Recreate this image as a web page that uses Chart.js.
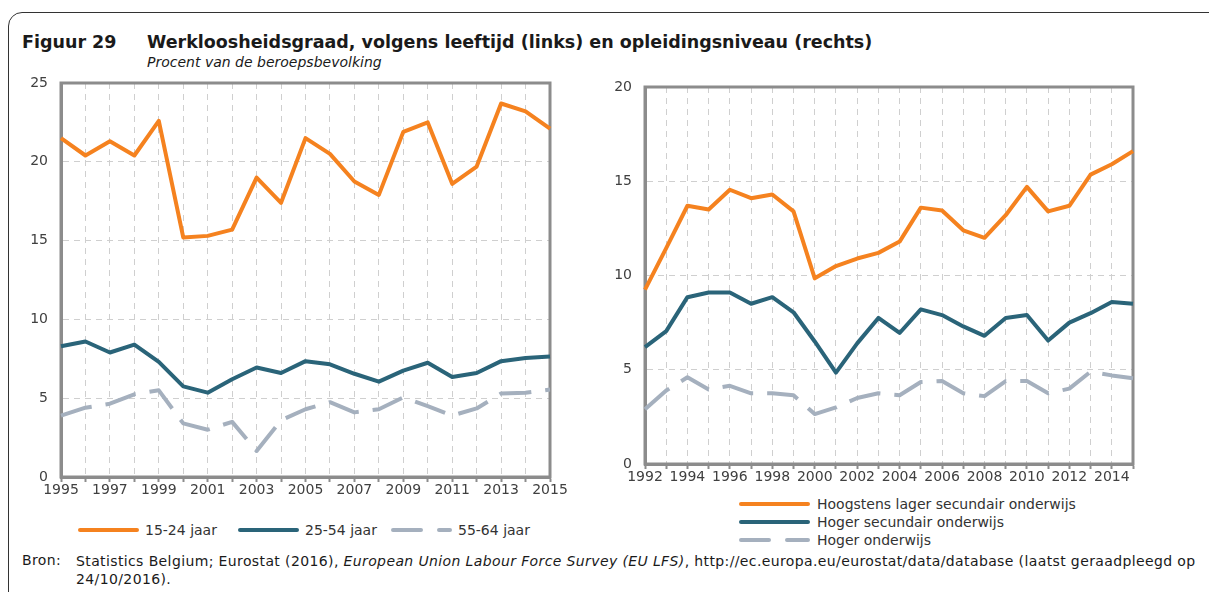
<!DOCTYPE html>
<html><head><meta charset="utf-8">
<script src="https://cdn.jsdelivr.net/npm/chart.js@4"></script>
<style>
html,body{margin:0;padding:0;background:#fff;width:1209px;height:592px;overflow:hidden;font-family:"DejaVu Sans",sans-serif;color:#1a1a1a}
#frame{position:absolute;left:8px;top:12px;width:1300px;height:700px;border:1px solid #333;border-radius:14px;box-sizing:border-box}
.t{position:absolute;white-space:nowrap}
#fig{left:22px;top:32px;font-weight:bold;font-size:17.5px}
#ttl{left:147px;top:32px;font-weight:bold;font-size:17.5px}
#sub{left:147px;top:54px;font-style:italic;font-size:14px}
.cv{position:absolute}
.leg{position:absolute;font-size:14px;color:#333}
.item{position:absolute;display:flex;align-items:center;white-space:nowrap}
.item svg{display:block}
#src1{left:22px;top:552px;font-size:14px;letter-spacing:0.38px}
#src2{left:76px;top:552px;font-size:14px;line-height:18px;letter-spacing:0.38px}
</style></head>
<body>
<div id="frame"></div>
<div class="t" id="fig">Figuur 29</div>
<div class="t" id="ttl">Werkloosheidsgraad, volgens leeftijd (links) en opleidingsniveau (rechts)</div>
<div class="t" id="sub">Procent van de beroepsbevolking</div>
<canvas id="c1" class="cv" width="580" height="440" style="left:0px;top:60px"></canvas>
<canvas id="c2" class="cv" width="629" height="427" style="left:580px;top:60px"></canvas>
<div id="leg1" class="leg"></div>
<div id="leg2" class="leg"></div>
<div class="t" id="src1">Bron:</div>
<div class="t" id="src2">Statistics Belgium; Eurostat (2016), <i>European Union Labour Force Survey (EU LFS)</i>, http://ec.europa.eu/eurostat/data/database (laatst geraadpleegd op<br>24/10/2016).</div>
<script>
// ---- Data: left chart (by age) ----
const yearsAge = ['1995','1996','1997','1998','1999','2000','2001','2002','2003','2004','2005','2006','2007','2008','2009','2010','2011','2012','2013','2014','2015'];
const age15_24 = [21.5,20.4,21.3,20.4,22.6,15.2,15.3,15.7,19.0,17.4,21.5,20.5,18.75,17.9,21.9,22.5,18.6,19.7,23.7,23.2,22.1];
const age25_54 = [8.3,8.6,7.9,8.4,7.3,5.75,5.35,6.2,6.95,6.6,7.35,7.15,6.55,6.05,6.75,7.25,6.35,6.6,7.35,7.55,7.65];
const age55_64 = [3.9,4.4,4.65,5.25,5.5,3.4,3.0,3.5,1.65,3.6,4.3,4.75,4.1,4.3,5.05,4.5,3.9,4.35,5.3,5.35,5.55];
const ageNames = ['15-24 jaar','25-54 jaar','55-64 jaar'];
const yTicksAge = [0,5,10,15,20,25];

// ---- Data: right chart (by education) ----
const yearsEdu = ['1992','1993','1994','1995','1996','1997','1998','1999','2000','2001','2002','2003','2004','2005','2006','2007','2008','2009','2010','2011','2012','2013','2014','2015'];
const eduLow = [9.25,11.45,13.7,13.5,14.55,14.1,14.3,13.4,9.85,10.5,10.9,11.2,11.8,13.6,13.45,12.4,12.0,13.2,14.7,13.4,13.7,15.35,15.9,16.6];
const eduMid = [6.2,7.05,8.85,9.1,9.1,8.5,8.85,8.05,6.5,4.85,6.4,7.75,6.95,8.2,7.9,7.3,6.8,7.75,7.9,6.55,7.5,8.0,8.6,8.5];
const eduHigh = [2.9,3.9,4.6,3.95,4.15,3.75,3.75,3.65,2.65,3.0,3.5,3.75,3.65,4.35,4.4,3.75,3.6,4.4,4.4,3.75,4.0,4.9,4.7,4.55];
const eduNames = ['Hoogstens lager secundair onderwijs','Hoger secundair onderwijs','Hoger onderwijs'];
const yTicksEdu = [0,5,10,15,20];

const colors = ['#F5821F','#2A6479','#A5B0BE'];
const dash = [32,14];
const FONT = "'DejaVu Sans', sans-serif";

const framePlugin = {id:'frame', beforeDatasetsDraw(chart){
  const {ctx, chartArea:a} = chart;
  ctx.save(); ctx.strokeStyle = '#8c8c8c'; ctx.lineWidth = 3;
  ctx.strokeRect(a.left, a.top, a.right-a.left, a.bottom-a.top); ctx.restore();
}};

function makeChart(id, labels, series, names, yMax, yW, padTop, padRight){
  const ds = series.map((d,i)=>({label:names[i], data:d, borderColor:colors[i], backgroundColor:colors[i],
    borderWidth:4, pointRadius:0, tension:0, fill:false, borderJoinStyle:'round', borderCapStyle:'butt',
    borderDash: i===2 ? dash : []}));
  return new Chart(document.getElementById(id), {
    type:'line',
    data:{labels:labels, datasets:ds},
    plugins:[framePlugin],
    options:{
      responsive:false, animation:false, devicePixelRatio:1,
      layout:{padding:{left:0, top:padTop, right:padRight, bottom:0}},
      plugins:{legend:{display:false}, tooltip:{enabled:false}},
      scales:{
        x:{
          offset:false,
          grid:{color:'#cfcfcf', lineWidth:1, drawTicks:true, tickLength:5, tickColor:'#8c8c8c', tickWidth:2, tickBorderDash:[]},
          border:{display:true, color:'#8c8c8c', width:3, dash:[6,5]},
          ticks:{autoSkip:false, maxRotation:0, padding:0, color:'#404040', font:{family:FONT, size:14},
            callback:function(v,i){return i%2===0 ? this.getLabelForValue(v) : '';}},
          afterFit:(s)=>{s.height=23;}
        },
        y:{
          min:0, max:yMax,
          grid:{color:'#cfcfcf', lineWidth:1, drawTicks:false},
          border:{display:true, color:'#8c8c8c', width:3, dash:[6,5]},
          ticks:{stepSize:5, padding:13, color:'#404040', font:{family:FONT, size:14}},
          afterFit:(s)=>{s.width=yW;}
        }
      }
    }
  });
}
makeChart('c1', yearsAge, [age15_24, age25_54, age55_64], ageNames, 25, 61, 23, 30);
makeChart('c2', yearsEdu, [eduLow, eduMid, eduHigh], eduNames, 20, 65, 27, 76);

function sample(color, dashed, len){
  const da = dashed ? ' stroke-dasharray="28 18"' : '';
  return '<svg width="'+(len+4)+'" height="8"><line x1="2" y1="4" x2="'+(len+2)+'" y2="4" stroke="'+color+'" stroke-width="4" stroke-linecap="round"'+da+'/></svg>';
}
// left legend (horizontal)
const leg1 = document.getElementById('leg1');
const pos1 = [78, 238, 391];
ageNames.forEach((n,i)=>{
  const d = document.createElement('div'); d.className='item';
  d.style.left = pos1[i]+'px'; d.style.top = '522px';
  d.innerHTML = sample(colors[i], i===2, 57) + '<span style="margin-left:6px">'+n+'</span>';
  leg1.appendChild(d);
});
// right legend (vertical)
const leg2 = document.getElementById('leg2');
eduNames.forEach((n,i)=>{
  const d = document.createElement('div'); d.className='item';
  d.style.left = '739px'; d.style.top = (496 + i*18)+'px';
  d.innerHTML = sample(colors[i], i===2, 67) + '<span style="margin-left:7px">'+n+'</span>';
  leg2.appendChild(d);
});
</script>
</body></html>
